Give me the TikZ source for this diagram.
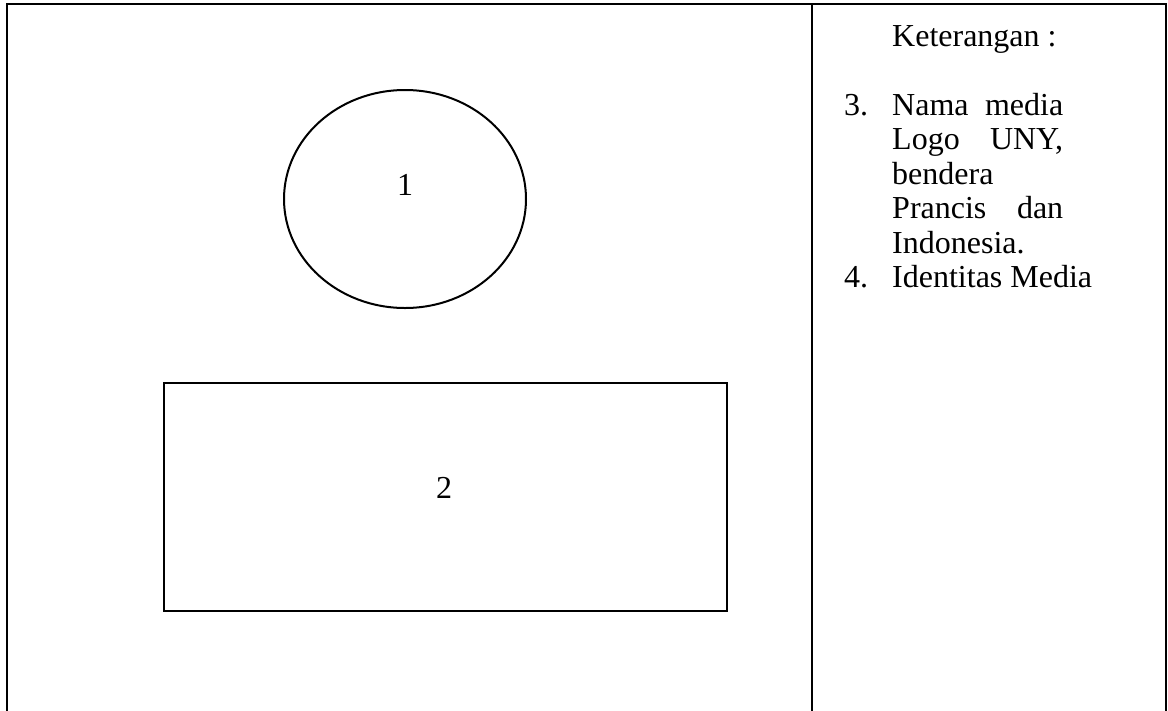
\documentclass[tikz,border=0pt]{standalone}
\usepackage{fontspec}
\setmainfont{Liberation Serif}
\usetikzlibrary{shapes.geometric}
\begin{document}
\begin{tikzpicture}[x=1pt,y=-1pt,
  frame/.style={line width=2.6pt,black},
  shapeline/.style={line width=2pt,black},
  txt/.style={inner sep=0pt,anchor=base west,font=\fontsize{32}{34.5}\selectfont},
  lbl/.style={inner sep=0pt,anchor=base,font=\fontsize{32}{34.5}\selectfont}]
\useasboundingbox (0,0) rectangle (1168,710);
% outer table frame
\coordinate (bl) at (7,712);
\coordinate (tl) at (7,4);
\coordinate (tr) at (1166,4);
\coordinate (br) at (1166,712);
\coordinate (dt) at (812,4);
\coordinate (db) at (812,712);
\draw[frame] (bl) -- (tl) -- (tr) -- (br);
\draw[line width=1.6pt] (dt) -- (db);
% ellipse
\node[shapeline,draw,ellipse,minimum width=242pt,minimum height=218pt,inner sep=0pt] (ell) at (405,199) {};
\node[lbl] (one) at (405,195) {1};
% rectangle
\node[shapeline,draw,rectangle,minimum width=563pt,minimum height=228pt,inner sep=0pt] (box) at (445.5,497) {};
\node[lbl] (two) at (444,498) {2};
% legend
\node[txt] (ket) at (892,46) {Keterangan :};
\node[txt] (n3) at (844,115) {3.};
\node[txt] (l1) at (892,115) {\makebox[171pt][s]{Nama media}};
\node[txt] (l2) at (892,149.5) {\makebox[171pt][s]{Logo UNY,}};
\node[txt] (l3) at (892,184) {bendera};
\node[txt] (l4) at (892,218.5) {\makebox[171pt][s]{Prancis dan}};
\node[txt] (l5) at (892,253) {Indonesia.};
\node[txt] (n4) at (844,287.5) {4.};
\node[txt] (l6) at (892,287.5) {Identitas Media};
\end{tikzpicture}
\end{document}
